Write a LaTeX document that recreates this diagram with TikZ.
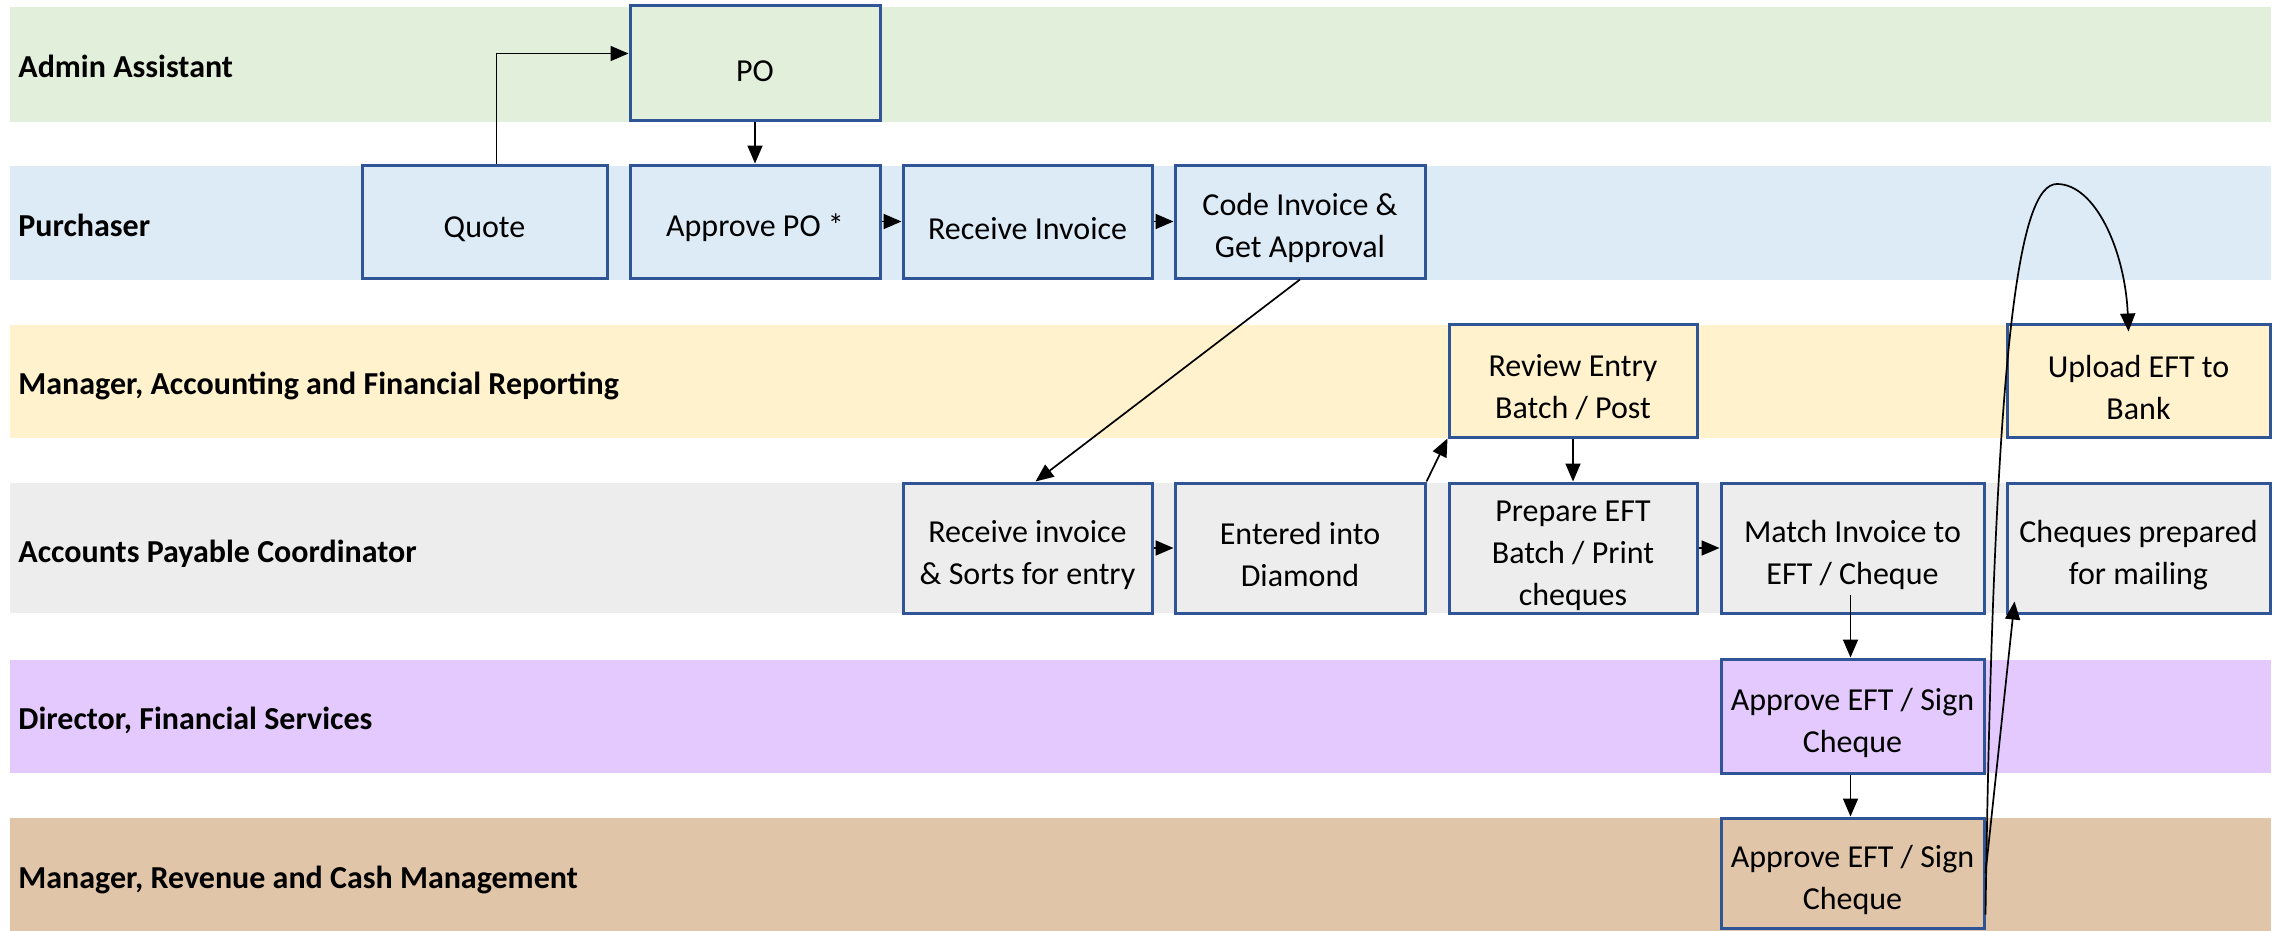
\documentclass[tikz,border=0pt]{standalone}
\usepackage{fontspec}
\setmainfont{Carlito}
\usetikzlibrary{arrows.meta,calc}
\definecolor{laneA}{HTML}{E2EFDA}
\definecolor{laneP}{HTML}{DDEBF7}
\definecolor{laneM}{HTML}{FFF2CC}
\definecolor{laneC}{HTML}{EDEDED}
\definecolor{laneD}{HTML}{E3C9FD}
\definecolor{laneR}{HTML}{E0C5A8}
\definecolor{boxblue}{HTML}{2F5597}
\newcommand\bs{\rule{0pt}{18pt}}
\begin{document}
\begin{tikzpicture}[x=0.5pt,y=-0.5pt,
  box/.style={draw=boxblue, line width=1.5pt, inner sep=0pt, align=center,
    font=\fontsize{16pt}{21pt}\selectfont},
  bsize/.style 2 args={minimum width=#1, minimum height=#2},
  lanelbl/.style={anchor=base west, inner sep=0pt,
    font=\bfseries\fontsize{16pt}{21pt}\selectfont},
  arr/.style={-{Triangle[length=9pt,width=7.5pt]}, line width=0.85pt, black}]
\useasboundingbox (0,0) rectangle (2280,931);
% lanes
\fill[laneA] (10,7) rectangle (2271,122);
\fill[laneP] (10,166) rectangle (2271,280);
\fill[laneM] (10,325) rectangle (2271,438);
\fill[laneC] (10,483) rectangle (2271,613);
\fill[laneD] (10,660) rectangle (2271,773);
\fill[laneR] (10,818) rectangle (2271,931);
\node[lanelbl] (lA) at (18,78) {Admin Assistant};
\node[lanelbl] (lP) at (18,236) {Purchaser};
\node[lanelbl] (lM) at (18,394) {Manager, Accounting and Financial Reporting};
\node[lanelbl] (lC) at (18,562) {Accounts Payable Coordinator};
\node[lanelbl] (lD) at (18,729) {Director, Financial Services};
\node[lanelbl] (lR) at (18,888) {Manager, Revenue and Cash Management};
% boxes
\node[box, fill=laneA, bsize={125pt}{57.5pt}] (po) at (755,63.5) {\bs PO};
\node[box, fill=laneP, bsize={122.5pt}{56.5pt}] (quote) at (484.5,221.5) {\bs Quote};
\node[box, fill=laneP, bsize={125pt}{56.5pt}] (appo) at (755,221.5) {\bs Approve PO *};
\node[box, fill=laneP, bsize={124.5pt}{56.5pt}] (recv) at (1027.5,221.5) {\bs Receive Invoice};
\node[box, fill=laneP, bsize={125pt}{56.5pt}] (code) at (1300,221.5) {\bs Code Invoice \&\\Get Approval};
\node[box, fill=laneM, bsize={124pt}{56.5pt}] (review) at (1573,380.5) {\bs Review Entry\\Batch / Post};
\node[box, fill=laneM, bsize={131.5pt}{56.5pt}] (upload) at (2138.5,380.5) {\bs Upload EFT to\\Bank};
\node[box, fill=laneC, bsize={124.5pt}{65pt}] (recv2) at (1027.5,548) {\bs Receive invoice\\\& Sorts for entry};
\node[box, fill=laneC, bsize={125pt}{65pt}] (entered) at (1300,548) {\bs Entered into\\Diamond};
\node[box, fill=laneC, bsize={124pt}{65pt}] (prep) at (1573,548) {\bs Prepare EFT\\Batch / Print\\cheques};
\node[box, fill=laneC, bsize={131.5pt}{65pt}] (match) at (1852.5,548) {\bs Match Invoice to\\EFT / Cheque};
\node[box, fill=laneC, bsize={131.5pt}{65pt}] (cheq) at (2138.5,548) {\bs Cheques prepared\\for mailing};
\node[box, fill=laneD, bsize={131.5pt}{57pt}] (dir) at (1852.5,716) {\bs Approve EFT / Sign\\Cheque};
\node[box, fill=laneR, bsize={131.5pt}{55pt}] (rev) at (1852.5,873) {\bs Approve EFT / Sign\\Cheque};
% connectors
\draw[arr] ($(quote.north)+(12,0)$) |- ($(po.west)+(0,-10)$);
\draw[arr] (po.south) -- (appo.north);
\draw[arr] (appo.east) -- (recv.west);
\draw[arr] (recv.east) -- (code.west);
\draw[arr] (code.south) -- ($(recv2.north)+(8,0)$);
\draw[arr] (recv2.east) -- (entered.west);
\draw[arr] (entered.north east) -- (review.south west);
\draw[arr] (review.south) -- (prep.north);
\draw[arr] (prep.east) -- (match.west);
\draw[arr] ($(match.south)+(-2,-20)$) -- ($(dir.north)+(-2,0)$);
\draw[arr] ($(dir.south)+(-2,0)$) -- ($(rev.north)+(-2,0)$);
\draw[arr] (rev.east) -- ($(cheq.south west)+(9,-13)$);
\draw[arr] ($(rev.south east)+(0,-15)$) .. controls (1994,330) and (2020,184) .. (2057,184)
  .. controls (2095,184) and (2125,250) .. ($(upload.north)+(-10,9)$);
\end{tikzpicture}
\end{document}
